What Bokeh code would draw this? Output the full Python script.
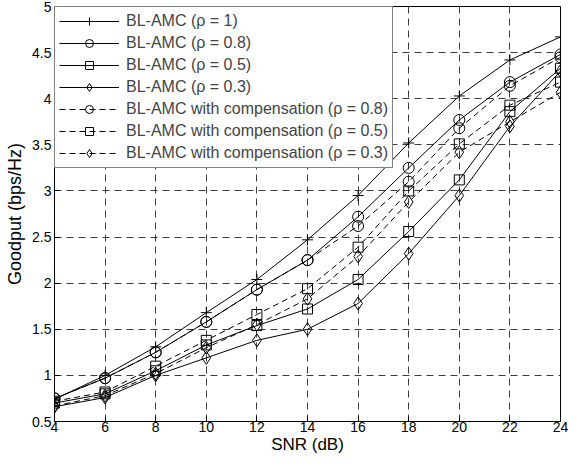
from bokeh.plotting import figure
from bokeh.models import Range1d, FixedTicker, Legend, LegendItem
from bokeh.embed import file_html
from bokeh.resources import INLINE

snr = [4, 6, 8, 10, 12, 14, 16, 18, 20, 22, 24]
rho1 = [0.74, 1.00, 1.31, 1.68, 2.04, 2.47, 2.95, 3.52, 4.03, 4.42, 4.67]
rho08 = [0.75, 0.97, 1.25, 1.58, 1.93, 2.25, 2.72, 3.25, 3.77, 4.18, 4.48]
rho05 = [0.70, 0.80, 1.05, 1.33, 1.54, 1.72, 2.04, 2.56, 3.12, 3.86, 4.33]
rho03 = [0.66, 0.76, 1.00, 1.19, 1.38, 1.50, 1.78, 2.32, 2.95, 3.70, 4.30]
comp08 = [0.75, 0.97, 1.25, 1.58, 1.93, 2.25, 2.62, 3.10, 3.68, 4.14, 4.45]
comp05 = [0.72, 0.82, 1.10, 1.38, 1.66, 1.94, 2.39, 3.00, 3.51, 3.93, 4.18]
comp03 = [0.67, 0.78, 1.02, 1.30, 1.55, 1.83, 2.29, 2.88, 3.42, 3.75, 4.07]

labels = ["BL-AMC (\u03c1 = 1)", "BL-AMC (\u03c1 = 0.8)", "BL-AMC (\u03c1 = 0.5)",
          "BL-AMC (\u03c1 = 0.3)",
          "BL-AMC with compensation (\u03c1 = 0.8)",
          "BL-AMC with compensation (\u03c1 = 0.5)",
          "BL-AMC with compensation (\u03c1 = 0.3)"]
x_ticks = [4, 6, 8, 10, 12, 14, 16, 18, 20, 22, 24]
y_ticks = [0.5, 1, 1.5, 2, 2.5, 3, 3.5, 4, 4.5, 5]

FONT = "Liberation Sans"

p = figure(width=568, height=456, output_backend="svg", toolbar_location=None,
           x_range=Range1d(4, 24), y_range=Range1d(0.5, 5),
           min_border_left=54, min_border_right=8, min_border_top=6, min_border_bottom=34)
p.outline_line_color = "black"
p.outline_line_width = 1

for ax in (p.xaxis, p.yaxis):
    ax.major_label_text_font = FONT
    ax.major_label_text_font_size = "14px"
    ax.major_label_text_color = "black"
    ax.axis_label_text_font = FONT
    ax.axis_label_text_font_style = "normal"
    ax.axis_label_text_color = "black"
    ax.axis_line_color = "black"
    ax.major_tick_in = 5
    ax.major_tick_out = 0
    ax.minor_tick_line_color = None
p.xaxis.axis_label_text_font_size = "17px"
p.yaxis.axis_label_text_font_size = "18px"
p.xaxis.ticker = FixedTicker(ticks=x_ticks)
p.yaxis.ticker = FixedTicker(ticks=y_ticks)
p.xaxis.axis_label = "SNR (dB)"
p.yaxis.axis_label = "Goodput (bps/Hz)"
p.xaxis.major_label_standoff = 0
p.yaxis.major_label_standoff = 3
p.xaxis.axis_label_standoff = 0
p.yaxis.axis_label_standoff = 4

p.grid.grid_line_color = "black"
p.grid.grid_line_dash = "7 5"
p.grid.grid_line_width = 0.9
p.grid.grid_line_alpha = 0.85

series = [
    (rho1, "cross", "solid", 11),
    (rho08, "circle", "solid", 11),
    (rho05, "square", "solid", 10),
    (rho03, "diamond", "solid", 13),
    (comp08, "circle", "6 4", 11),
    (comp05, "square", "6 4", 10),
    (comp03, "diamond", "6 4", 13),
]

items = []
for (ys, mk, dash, sz), lab in zip(series, labels):
    ln = p.line(snr, ys, line_color="black", line_width=1, line_dash=dash)
    sc = p.scatter(snr, ys, marker=mk, size=sz, line_color="black",
                   fill_alpha=0, line_width=1)
    items.append(LegendItem(label=lab, renderers=[ln, sc]))

legend = Legend(items=items, location="top_left")
legend.margin = 0
legend.padding = 4
legend.spacing = 2
legend.glyph_width = 60
legend.glyph_height = 20
legend.label_text_font = FONT
legend.label_text_font_size = "16px"
legend.label_standoff = 7
legend.border_line_color = "black"
legend.border_line_width = 1
legend.background_fill_color = "white"
legend.background_fill_alpha = 1
p.add_layout(legend, "center")

open("out.html", "w").write(file_html(p, INLINE))
